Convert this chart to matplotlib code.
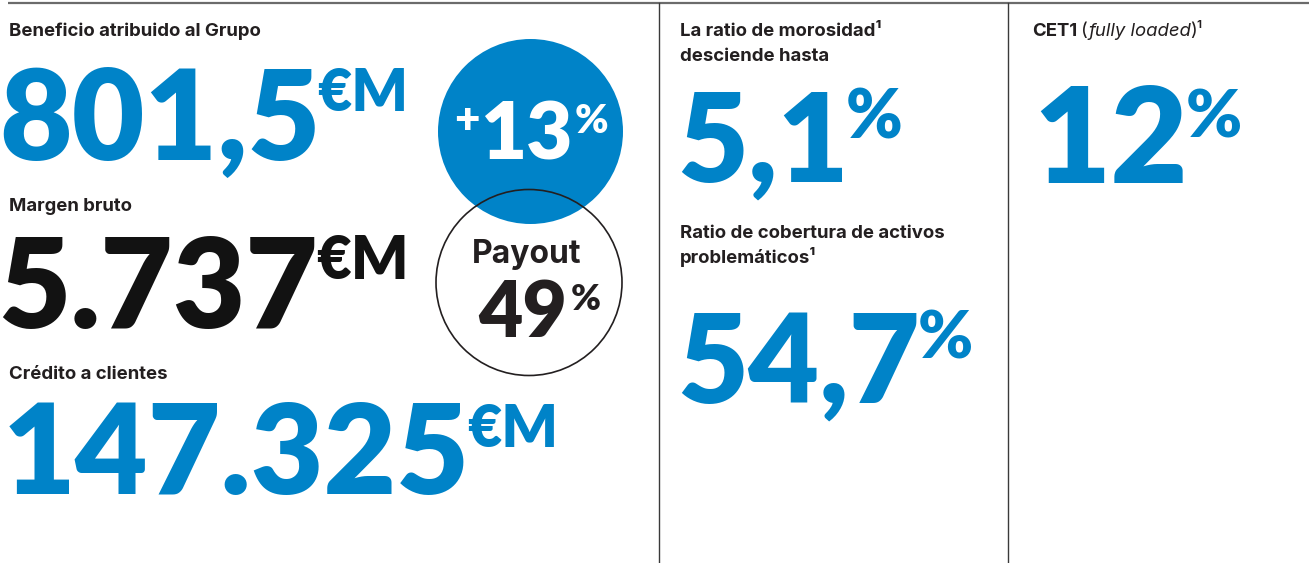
import math
import matplotlib
matplotlib.use("Agg")
import matplotlib.pyplot as plt
from matplotlib import font_manager as fm
from matplotlib.font_manager import FontProperties
from matplotlib.textpath import TextPath
from matplotlib.patches import Circle

# ---------------- data ----------------
kpi_labels = ["Beneficio atribuido al Grupo", "Margen bruto", "Crédito a clientes"]
kpi_values = ["801,5", "5.737", "147.325"]
kpi_units = ["€M", "€M", "€M"]
growth_sign = "+"
growth_value = "13"
payout_label = "Payout"
payout_value = "49"
percent_sign = "%"
ratio_label_lines = [["La ratio de morosidad¹", "desciende hasta"],
                     ["Ratio de cobertura de activos", "problemáticos¹"]]
ratio_values = ["5,1", "54,7"]
cet1_label_parts = ["CET1", "(", "fully loaded", ")¹"]
cet1_value = "12"

# ---------------- style / layout ----------------
W, H, DPI = 1309, 563, 100
PX = DPI / 72.0
BLUE = "#0083C8"
DARK = "#231F20"
BLACK = "#121212"

WMAP = {"ultralight": 100, "thin": 100, "light": 300, "normal": 400, "regular": 400,
        "book": 400, "roman": 400, "medium": 500, "semibold": 600, "demibold": 600,
        "demi": 600, "bold": 700, "extra bold": 800, "heavy": 800, "black": 900}


def wnum(w):
    if isinstance(w, (int, float)):
        return int(w)
    return WMAP.get(str(w).lower(), 400)


def ink_em(s, fp):
    e = TextPath((0, 0), s, size=1, prop=fp).get_extents()
    return e.x0, e.x1, e.y0, e.y1


def entries(names, style, wmin, wmax):
    out = []
    for f in fm.fontManager.ttflist:
        if f.name in names and f.style == style and wmin <= wnum(f.weight) <= wmax:
            out.append(f)
    return out


# heavy font for the big figures: choose best aspect match
num_targets = [("801,5", 310, 93), ("147.325", 457, 92), ("5.737", 303, 95), ("12", 151, 93)]
heavy_fams = ["Roboto", "Lato", "Inter", "Open Sans", "Noto Sans", "DejaVu Sans", "Liberation Sans"]
best = None
for f in entries(heavy_fams, "normal", 700, 1000):
    fp = FontProperties(fname=f.fname)
    sc = 0.0
    for s, tw, th in num_targets:
        x0, x1, y0, y1 = ink_em(s, fp)
        r = (x1 - x0) / y1
        sc += math.log(r / (tw / th)) ** 2
    sc += (900 - wnum(f.weight)) / 100.0 * 0.03
    if best is None or sc < best[0]:
        best = (sc, fp)
HEAVY = best[1] if best else FontProperties(family="DejaVu Sans", weight="bold")

# label font
label_targets = [("Beneficio atribuido al Grupo", 248), ("Margen bruto", 120),
                 ("Crédito a clientes", 158), ("Ratio de cobertura de activos", 263),
                 ("desciende hasta", 147)]
LABEL_CAP = 13.5
label_fams = ["Liberation Sans Narrow", "Roboto", "Lato", "Open Sans", "Noto Sans",
              "Inter", "Liberation Sans", "DejaVu Sans"]
best = None
for f in entries(label_fams, "normal", 600, 800):
    fp = FontProperties(fname=f.fname)
    cap = ink_em("H", fp)[3]
    scale = LABEL_CAP / cap
    sc = 0.0
    for s, tw in label_targets:
        x0, x1, _, _ = ink_em(s, fp)
        sc += math.log((x1 - x0) * scale / tw) ** 2
    if best is None or sc < best[0]:
        best = (sc, fp, f.name)
if best:
    LABEL, LABEL_NAME = best[1], best[2]
else:
    LABEL, LABEL_NAME = FontProperties(family="DejaVu Sans", weight="bold"), "DejaVu Sans"


def variant(name, style, weight):
    c = entries([name], style, weight - 100, weight + 100)
    if c:
        c.sort(key=lambda f: abs(wnum(f.weight) - weight))
        return FontProperties(fname=c[0].fname)
    return FontProperties(family=name, style=style, weight=weight)


LABEL_IT = variant(LABEL_NAME, "italic", 400)
LABEL_REG = variant(LABEL_NAME, "normal", 400)
LABEL_FS = LABEL_CAP / (ink_em("H", LABEL)[3] * PX)

# ---------------- figure ----------------
fig = plt.figure(figsize=(W / DPI, H / DPI), dpi=DPI, facecolor="white")
ax = fig.add_axes([0, 0, 1, 1])
ax.set_xlim(0, W)
ax.set_ylim(H, 0)
ax.axis("off")
renderer = fig.canvas.get_renderer()


def put(s, fp, color, left, right=None, top=None, base=None, bottom=None,
        fs=None, align="left", wt=0.5, z=3):
    x0, x1, y0, y1 = ink_em(s, fp)
    if fs is None:
        if base is not None:
            s_h = (base - top) / y1
        else:
            s_h = (bottom - top) / (y1 - y0)
        s_w = (right - left) / (x1 - x0)
        sc = s_w ** wt * s_h ** (1 - wt)
        fs = sc / PX
    sc = fs * PX
    if base is None:
        base = bottom + y0 * sc
    p = fp.copy()
    p.set_size(fs)
    t = ax.text(left, base, s, fontproperties=p, color=color, ha="left",
                va="baseline", zorder=z)
    e = t.get_window_extent(renderer)
    if align == "center":
        dx = (left + right) / 2.0 - (e.x0 + e.x1) / 2.0
    elif align == "right":
        dx = right - e.x1
    else:
        dx = left - e.x0
    t.set_x(left + dx)
    return t, fs


# rules
ax.plot([8, W], [3, 3], color="#6b6b6b", lw=1.6, solid_capstyle="butt", zorder=1)
for xv in (659, 1008):
    ax.plot([xv, xv], [3, H], color="#3a3a3a", lw=1.0, zorder=1)

# left column labels and values
label_pos = [(9, 36), (9, 211), (9, 379)]
num_boxes = [(5, 315, 67, 160), (7, 310, 233, 328), (8, 465, 402, 494)]
unit_boxes = [(319, 406, 68, 111), (318, 406, 235, 279), (469, 556, 404, 447)]
num_colors = [BLUE, BLACK, BLUE]
for lab, (lx, lb), val, unit, nb, ub, col in zip(kpi_labels, label_pos, kpi_values,
                                                  kpi_units, num_boxes, unit_boxes, num_colors):
    put(lab, LABEL, DARK, lx, base=lb, fs=LABEL_FS)
    put(val, HEAVY, col, nb[0], nb[1], top=nb[2], base=nb[3], align="center")
    put(unit, HEAVY, col, ub[0], ub[1], top=ub[2], base=ub[3], align="center")

# circles
ax.add_patch(Circle((530.5, 131.5), 92.5, facecolor=BLUE, edgecolor="none", zorder=2))
ax.add_patch(Circle((529, 282.5), 93, facecolor="none", edgecolor=DARK, lw=1.2, zorder=4))
put(growth_sign, HEAVY, "white", 456, 478, top=108, bottom=130, align="center", z=5)
put(growth_value, HEAVY, "white", 482, 570, top=103, base=160, align="center", z=5)
put(percent_sign, HEAVY, "white", 575, 603, top=100, bottom=133, align="left", z=5)
put(payout_label, LABEL, DARK, 473, 581, top=240, base=263, align="center", z=5)
put(payout_value, HEAVY, DARK, 477, 567, top=283, base=337, align="right", z=5)
put(percent_sign, HEAVY, DARK, 571, 598, top=283, bottom=310, align="left", z=5)

# middle column
ratio_label_pos = [[(680, 36), (680, 61)], [(680, 238), (680, 263)]]
ratio_boxes = [(683, 843, 92, 182), (683, 914, 312, 403)]
ratio_pct_boxes = [(850, 899, 85, 139), (921, 969, 307, 359)]
for lines, poss, val, vb, pb in zip(ratio_label_lines, ratio_label_pos, ratio_values,
                                    ratio_boxes, ratio_pct_boxes):
    for ln, (lx, lb) in zip(lines, poss):
        put(ln, LABEL, DARK, lx, base=lb, fs=LABEL_FS)
    put(val, HEAVY, BLUE, vb[0], vb[1], top=vb[2], base=vb[3], align="center")
    put(percent_sign, HEAVY, BLUE, pb[0], pb[1], top=pb[2], bottom=pb[3], align="center")

# right column
x = 1032
fonts = [LABEL, LABEL_REG, LABEL_IT, LABEL_REG]
gaps = [4, 1, -2, 0]
for part, fpp, g in zip(cet1_label_parts, fonts, gaps):
    t, _ = put(part, fpp, DARK, x, base=36, fs=LABEL_FS)
    x = t.get_window_extent(renderer).x1 + g
put(cet1_value, HEAVY, BLUE, 1035, 1186, top=90, base=183, align="center")
put(percent_sign, HEAVY, BLUE, 1189, 1238, top=85, bottom=138, align="center")

fig.savefig("out.png", dpi=DPI, facecolor="white")
